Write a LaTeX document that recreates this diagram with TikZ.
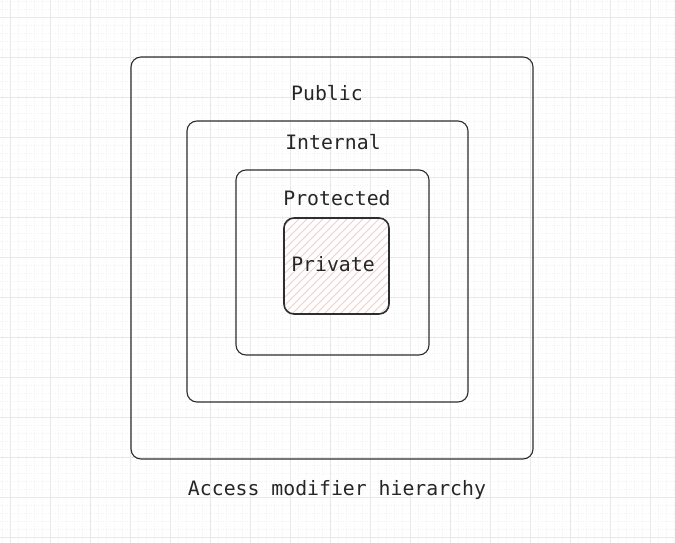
\documentclass[tikz,border=0pt]{standalone}
\usepackage{fontspec}
\setmonofont{DejaVu Sans Mono}
\begin{document}
\begin{tikzpicture}[x=1pt,y=-1pt,
  box/.style={draw=black!82,line width=1.1pt,rounded corners=10pt},
  lbl/.style={font=\ttfamily\fontsize{19.8}{22}\selectfont,text=black!85,inner sep=0pt,anchor=center}]
\useasboundingbox (0,0) rectangle (675,543);
\fill[white] (0,0) rectangle (675,543);
% grid
\foreach \x in {2,10,...,675} \draw[black!5,line width=0.4pt,dotted] (\x,0) -- (\x,543);
\foreach \y in {1,9,...,543} \draw[black!5,line width=0.4pt,dotted] (0,\y) -- (675,\y);
\foreach \x in {10,50,...,675} \draw[black!9,line width=0.8pt] (\x,0) -- (\x,543);
\foreach \y in {17,57,...,543} \draw[black!9,line width=0.8pt] (0,\y) -- (675,\y);
% boxes
\draw[box] (131,57) rectangle (533,459);
\draw[box] (187,121) rectangle (468,402);
\draw[box] (236,170) rectangle (429,355);
\begin{scope}
\clip[rounded corners=10pt] (284,218) rectangle (389,314);
\fill[white] (284,218) rectangle (389,314);
\foreach \k in {-120,-112,...,120}
  \draw[red!22,line width=0.9pt] (284+\k,314) -- (284+\k+110,204);
\end{scope}
\draw[box,line width=1.6pt] (284,218) rectangle (389,314);
% labels
\node[lbl] (pub) at (327,93) {Public};
\node[lbl] (int) at (333,142) {Internal};
\node[lbl] (pro) at (337,198) {Protected};
\node[lbl] (pri) at (333,264) {Private};
\node[lbl] (cap) at (337,490) {Access modifier hierarchy};
\end{tikzpicture}
\end{document}
